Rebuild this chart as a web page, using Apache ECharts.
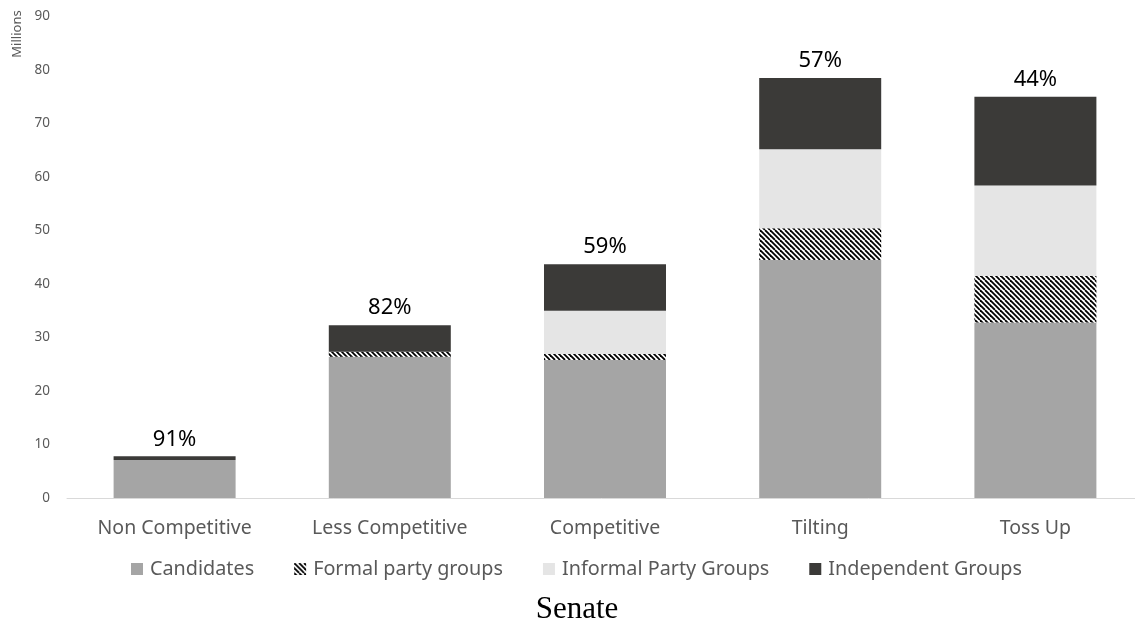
<!DOCTYPE html>
<html>
<head>
<meta charset="utf-8">
<title>Senate</title>
<script src="https://cdn.jsdelivr.net/npm/echarts@6/dist/echarts.min.js"></script>
<style>
  html, body { margin: 0; padding: 0; background: #ffffff; }
  #chart { width: 1135px; height: 630px; }
</style>
</head>
<body>
<div id="chart"></div>
<script>
// Spending by race competitiveness (millions of dollars)
const categories = ['Non Competitive', 'Less Competitive', 'Competitive', 'Tilting', 'Toss Up'];
const candidates = [7.1, 26.4, 25.8, 44.5, 32.8];
const formalParty = [0, 0.95, 1.1, 5.9, 8.7];
const informalParty = [0, 0, 8.1, 14.8, 16.9];
const independent = [0.7, 4.95, 8.7, 13.3, 16.6];
const seriesNames = ['Candidates', 'Formal party groups', 'Informal Party Groups', 'Independent Groups'];
const yTicks = { min: 0, max: 90, interval: 10 };

// Candidate share of total spending, shown above each bar
function candidateShare(i) {
  const total = candidates[i] + formalParty[i] + informalParty[i] + independent[i];
  return Math.round(candidates[i] / total * 100) + '%';
}

// Black/white diagonal hatch used for formal party groups
function hatchPattern() {
  const c = document.createElement('canvas');
  c.width = 10; c.height = 10;
  const ctx = c.getContext('2d');
  ctx.fillStyle = '#ffffff';
  ctx.fillRect(0, 0, 10, 10);
  ctx.strokeStyle = '#000000';
  ctx.lineWidth = 1.8;
  for (let o = -15; o <= 15; o += 5) {
    ctx.beginPath();
    ctx.moveTo(o, 0);
    ctx.lineTo(o + 10, 10);
    ctx.stroke();
  }
  return c;
}

const chart = echarts.init(document.getElementById('chart'), null, { renderer: 'canvas' });
const textFont = 'Noto Sans';

function barSeries(name, data, color, extra) {
  return Object.assign({
    name: name,
    type: 'bar',
    stack: 'total',
    data: data,
    barWidth: 122,
    itemStyle: { color: color },
    emphasis: { disabled: true }
  }, extra || {});
}

chart.setOption({
  animation: false,
  backgroundColor: '#ffffff',
  grid: { left: 67, top: 16.5, width: 1076, bottom: 132, containLabel: false, outerBoundsMode: 'none' },
  xAxis: {
    type: 'category',
    data: categories,
    axisLine: { show: true, lineStyle: { color: '#d9d9d9', width: 1 } },
    axisTick: { show: false },
    axisLabel: { color: '#595959', fontFamily: textFont, fontSize: 19.5, margin: 20, interval: 0 },
    splitLine: { show: false }
  },
  yAxis: {
    type: 'value',
    min: yTicks.min,
    max: yTicks.max,
    interval: yTicks.interval,
    axisLine: { show: false },
    axisTick: { show: false },
    splitLine: { show: false },
    axisLabel: { color: '#595959', fontFamily: textFont, fontSize: 13.5, margin: 17 }
  },
  legend: {
    data: seriesNames,
    left: 131,
    top: 559,
    padding: 0,
    itemWidth: 12,
    itemHeight: 12,
    itemGap: 40,
    icon: 'rect',
    textStyle: { color: '#595959', fontFamily: textFont, fontSize: 19.8, padding: [0, 0, 0, 2] },
    selectedMode: false
  },
  graphic: [
    {
      type: 'text',
      x: 17, y: 34,
      rotation: Math.PI / 2,
      style: { text: 'Millions', fill: '#595959', font: '13px "Noto Sans"', align: 'center', verticalAlign: 'middle' }
    },
    {
      type: 'text',
      x: 577, y: 610,
      style: { text: 'Senate', fill: '#000000', font: '31px "Liberation Serif"', align: 'center', verticalAlign: 'middle' }
    }
  ],
  series: [
    barSeries(seriesNames[0], candidates, '#a5a5a5'),
    barSeries(seriesNames[1], formalParty, { image: hatchPattern(), repeat: 'repeat' }),
    barSeries(seriesNames[2], informalParty, '#e5e5e5'),
    barSeries(seriesNames[3], independent, '#3b3a38', {
      label: {
        show: true,
        position: 'top',
        distance: 6,
        color: '#000000',
        fontFamily: textFont,
        fontSize: 22,
        formatter: (p) => candidateShare(p.dataIndex)
      }
    })
  ]
});
</script>
</body>
</html>
